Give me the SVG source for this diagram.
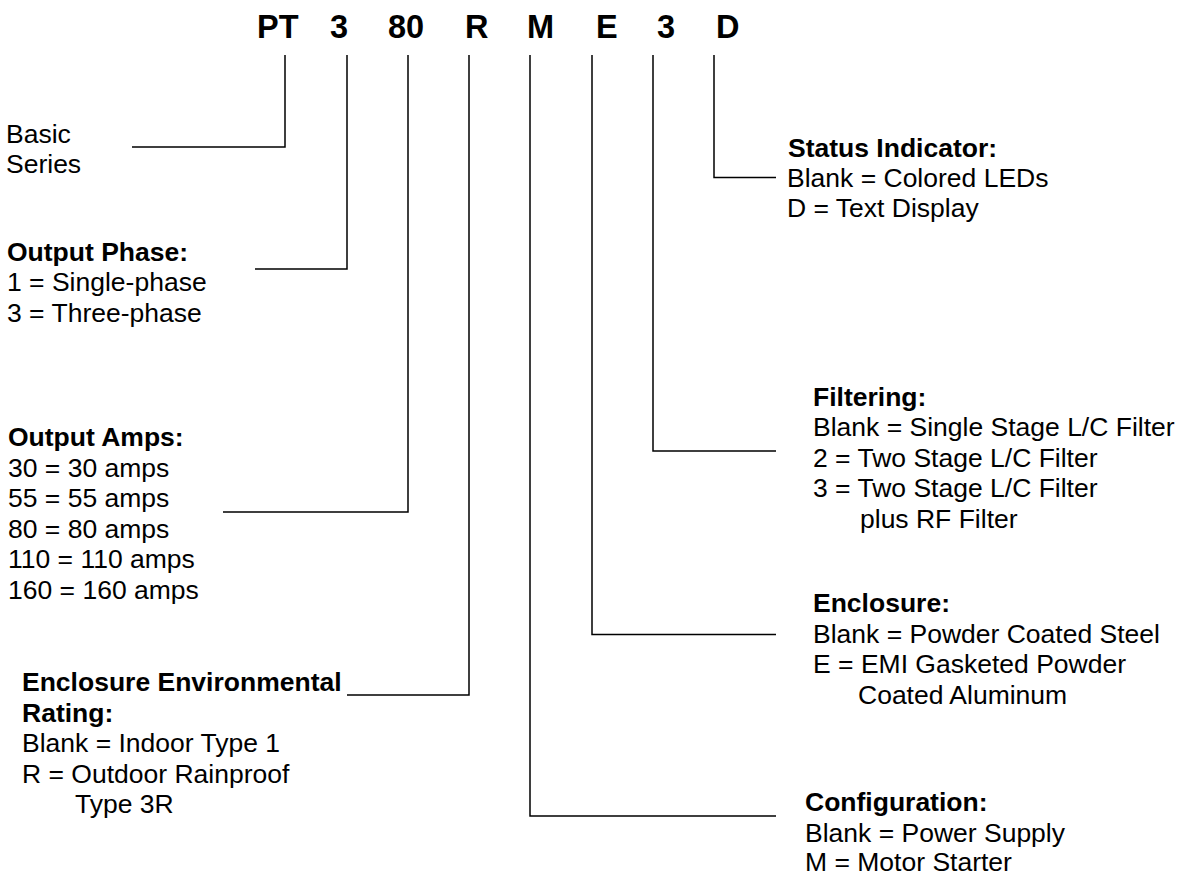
<svg xmlns="http://www.w3.org/2000/svg" width="1183" height="876" viewBox="0 0 1183 876">
<style>
text{font-family:"Liberation Sans",Arial,sans-serif;font-size:26.5px;fill:#000}
.h{font-weight:bold;font-size:32.5px}
.b{font-weight:bold}
.c{fill:none;stroke:#000;stroke-width:1.5}
</style>
<rect width="1183" height="876" fill="#fff"/>
<g id="header">
<text class="h" x="257" y="37.5">PT</text>
<text class="h" x="330" y="37.5">3</text>
<text class="h" x="388" y="37.5">80</text>
<text class="h" x="465" y="37.5">R</text>
<text class="h" x="527" y="37.5">M</text>
<text class="h" x="596" y="37.5">E</text>
<text class="h" x="657" y="37.5">3</text>
<text class="h" x="716" y="37.5">D</text>
</g>
<g id="connectors">
<polyline class="c" points="285,55 285,147 132,147"/>
<polyline class="c" points="347,55 347,269 255,269"/>
<polyline class="c" points="408,55 408,512 223,512"/>
<polyline class="c" points="469,55 469,695 347,695"/>
<polyline class="c" points="530,55 530,816 776,816"/>
<polyline class="c" points="592,55 592,634.5 776,634.5"/>
<polyline class="c" points="653,55 653,451 776,451"/>
<polyline class="c" points="714,55 714,177.5 776,177.5"/>
</g>
<g id="basic-series">
<text x="6" y="143">Basic</text>
<text x="6" y="173">Series</text>
</g>
<g id="output-phase">
<text class="b" x="7" y="261">Output Phase:</text>
<text x="7" y="291">1 = Single-phase</text>
<text x="7" y="322">3 = Three-phase</text>
</g>
<g id="output-amps">
<text class="b" x="8" y="446">Output Amps:</text>
<text x="8" y="476.5">30 = 30 amps</text>
<text x="8" y="507">55 = 55 amps</text>
<text x="8" y="537.5">80 = 80 amps</text>
<text x="8" y="568">110 = 110 amps</text>
<text x="8" y="598.5">160 = 160 amps</text>
</g>
<g id="enclosure-environmental-rating">
<text class="b" x="22" y="691">Enclosure Environmental</text>
<text class="b" x="22" y="721.5">Rating:</text>
<text x="22" y="752">Blank = Indoor Type 1</text>
<text x="22" y="782.5">R = Outdoor Rainproof</text>
<text x="75" y="813">Type 3R</text>
</g>
<g id="status-indicator">
<text class="b" x="788" y="156.5">Status Indicator:</text>
<text x="787" y="187">Blank = Colored LEDs</text>
<text x="787" y="217">D = Text Display</text>
</g>
<g id="filtering">
<text class="b" x="813" y="405.5">Filtering:</text>
<text x="813" y="436">Blank = Single Stage L/C Filter</text>
<text x="813" y="466.5">2 = Two Stage L/C Filter</text>
<text x="813" y="497">3 = Two Stage L/C Filter</text>
<text x="860" y="527.5">plus RF Filter</text>
</g>
<g id="enclosure">
<text class="b" x="813" y="612">Enclosure:</text>
<text x="813" y="642.5">Blank = Powder Coated Steel</text>
<text x="813" y="673">E = EMI Gasketed Powder</text>
<text x="858" y="703.5">Coated Aluminum</text>
</g>
<g id="configuration">
<text class="b" x="805" y="811">Configuration:</text>
<text x="805" y="841.5">Blank = Power Supply</text>
<text x="805" y="871">M = Motor Starter</text>
</g>
</svg>
